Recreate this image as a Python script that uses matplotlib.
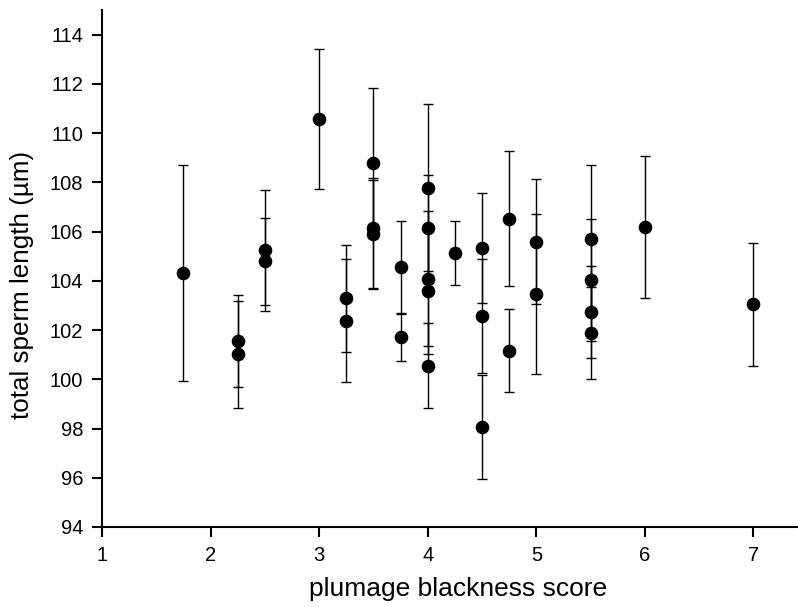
import matplotlib.pyplot as plt

plt.rcParams['font.family'] = ['Liberation Sans', 'DejaVu Sans']

# plumage blackness score per male
blackness = [1.75, 2.25, 2.25, 2.5, 2.5, 3.0, 3.25, 3.25,
             3.5, 3.5, 3.5, 3.75, 3.75,
             4.0, 4.0, 4.0, 4.0, 4.0, 4.25,
             4.5, 4.5, 4.5, 4.75, 4.75, 5.0, 5.0,
             5.5, 5.5, 5.5, 5.5, 6.0, 7.0]
# mean total sperm length (um)
sperm_len = [104.31, 101.56, 101.02, 105.24, 104.79, 110.58, 103.29, 102.38,
             108.80, 106.14, 105.91, 104.57, 101.70,
             107.78, 106.14, 104.09, 103.60, 100.56, 105.13,
             105.32, 102.57, 98.07, 106.52, 101.16, 105.59, 103.46,
             105.71, 104.04, 102.73, 101.88, 106.18, 103.05]
# error bar lengths below / above the mean
err_lo = [4.39, 1.86, 2.18, 2.46, 1.78, 2.85, 2.19, 2.47,
          3.05, 2.44, 2.25, 1.89, 0.97,
          3.40, 2.16, 2.74, 2.58, 1.73, 1.29,
          2.23, 2.32, 2.12, 2.75, 1.68, 2.55, 3.26,
          3.01, 2.48, 1.88, 1.86, 2.88, 2.50]
err_hi = [4.38, 1.88, 2.16, 2.45, 1.78, 2.83, 2.18, 2.49,
          3.05, 1.97, 2.25, 1.87, 0.97,
          3.40, 2.16, 2.74, 2.58, 1.73, 1.29,
          2.23, 2.32, 2.12, 2.75, 1.68, 2.55, 3.26,
          3.01, 2.48, 1.88, 1.86, 2.88, 2.48]

fig = plt.figure(figsize=(7.98, 6.07), dpi=100)
ax = fig.add_axes([0.1278, 0.1318, 0.8722, 0.8517])

ax.errorbar(blackness, sperm_len, yerr=[err_lo, err_hi], fmt='o', color='black',
            ecolor='black', elinewidth=1, capsize=3.6, capthick=1,
            markersize=8.8, zorder=3)

ax.set_xlim(1, 7.41)
ax.set_ylim(94, 115)
ax.set_xticks(range(1, 8))
ax.set_yticks(range(94, 115, 2))

ax.spines['top'].set_visible(False)
ax.spines['right'].set_visible(False)
ax.spines['left'].set_linewidth(1.5)
ax.spines['bottom'].set_linewidth(1.5)
ax.tick_params(direction='out', length=7.5, width=1.5, labelsize=14.5, pad=6)

ax.set_xlabel("plumage blackness score", fontsize=19)
ax.set_ylabel("total sperm length (\u00b5m)", fontsize=18.7)
ax.xaxis.set_label_coords(0.512, -0.097)
ax.yaxis.set_label_coords(-0.098, 0.468)

fig.savefig("out.png", dpi=100)
